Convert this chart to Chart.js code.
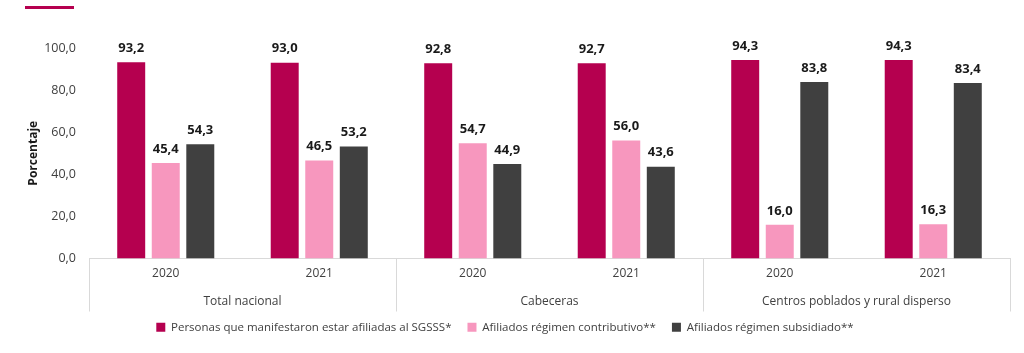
<!DOCTYPE html>
<html>
<head>
<meta charset="utf-8">
<script src="https://cdn.jsdelivr.net/npm/chart.js@4"></script>
<style>
  html, body { margin: 0; padding: 0; background: #fff; }
  #wrap { position: relative; width: 1024px; height: 353px; }
  #topline { position: absolute; left: 25px; top: 6px; width: 49px; height: 3px; background: #b5004f; }
</style>
</head>
<body>
<div id="wrap">
  <div id="topline"></div>
  <canvas id="graph" width="1024" height="353"></canvas>
</div>
<script>
// categories
const years = ['2020', '2021', '2020', '2021', '2020', '2021'];
const groups = ['Total nacional', 'Cabeceras', 'Centros poblados y rural disperso'];

// series
const afiliadasSgsss = [93.2, 93.0, 92.8, 92.7, 94.3, 94.3];
const contributivo = [45.4, 46.5, 54.7, 56.0, 16.0, 16.3];
const subsidiado = [54.3, 53.2, 44.9, 43.6, 83.8, 83.4];

const yTicks = [0, 20, 40, 60, 80, 100];

const fontFamily = "'Open Sans', 'DejaVu Sans', sans-serif";
const textColor = '#404040';
const lineColor = '#d9d9d9';

function fmt(v) {
  return v.toFixed(1).replace('.', ',');
}

// value labels above the bars
const valueLabels = {
  id: 'valueLabels',
  afterDatasetsDraw(chart) {
    const ctx = chart.ctx;
    ctx.save();
    ctx.font = 'bold 13px ' + fontFamily;
    ctx.fillStyle = '#1a1a1a';
    ctx.textAlign = 'center';
    ctx.textBaseline = 'middle';
    chart.data.datasets.forEach((ds, i) => {
      chart.getDatasetMeta(i).data.forEach((bar, j) => {
        ctx.fillText(fmt(ds.data[j]), bar.x, bar.y - 14);
      });
    });
    ctx.restore();
  }
};

// group separators + group names under the years
const groupAxis = {
  id: 'groupAxis',
  afterDraw(chart) {
    const ctx = chart.ctx;
    const x = chart.scales.x;
    const bottom = chart.chartArea.bottom;
    const step = x.getPixelForValue(1) - x.getPixelForValue(0);
    ctx.save();
    ctx.strokeStyle = lineColor;
    ctx.lineWidth = 1;
    for (let g = 0; g <= groups.length; g++) {
      const px = Math.round(x.getPixelForValue(g * 2) - step / 2) + 0.5;
      ctx.beginPath();
      ctx.moveTo(px, bottom);
      ctx.lineTo(px, bottom + 53);
      ctx.stroke();
    }
    ctx.font = '12px ' + fontFamily;
    ctx.fillStyle = textColor;
    ctx.textAlign = 'center';
    ctx.textBaseline = 'middle';
    groups.forEach((name, g) => {
      const cx = (x.getPixelForValue(g * 2) + x.getPixelForValue(g * 2 + 1)) / 2;
      ctx.fillText(name, cx, bottom + 43);
    });
    ctx.restore();
  }
};

const data = {
  labels: years,
  datasets: [
    {
      label: 'Personas que manifestaron estar afiliadas al SGSSS*',
      data: afiliadasSgsss,
      backgroundColor: '#b5004f'
    },
    {
      label: 'Afiliados régimen contributivo**',
      data: contributivo,
      backgroundColor: '#f797be'
    },
    {
      label: 'Afiliados régimen subsidiado**',
      data: subsidiado,
      backgroundColor: '#404040'
    }
  ]
};

const config = {
  type: 'bar',
  data,
  plugins: [valueLabels, groupAxis],
  options: {
    responsive: false,
    animation: false,
    categoryPercentage: 0.675,
    barPercentage: 0.81,
    layout: { padding: { top: 48, right: 14, bottom: 10, left: 0 } },
    plugins: {
      tooltip: { enabled: false },
      legend: {
        position: 'bottom',
        labels: {
          boxWidth: 9,
          boxHeight: 9,
          padding: 16,
          color: textColor,
          font: { family: fontFamily, size: 11.5 }
        }
      }
    },
    scales: {
      x: {
        grid: { display: false },
        border: { display: true, color: lineColor },
        ticks: {
          color: textColor,
          padding: 0,
          font: { family: fontFamily, size: 12 }
        },
        afterFit(scale) { scale.height = 47; }
      },
      y: {
        min: 0,
        max: 100,
        grid: { display: false },
        border: { display: false },
        afterBuildTicks(scale) {
          scale.ticks = yTicks.map(v => ({ value: v }));
        },
        ticks: {
          color: textColor,
          padding: 5,
          font: { family: fontFamily, size: 12.5 },
          callback: v => fmt(v)
        },
        title: {
          display: true,
          text: 'Porcentaje',
          color: '#1a1a1a',
          padding: { top: 26, bottom: 0 },
          font: { family: fontFamily, size: 12, weight: 'bold' }
        },
        afterFit(scale) { scale.width = 89; }
      }
    }
  }
};

const chart = new Chart(document.getElementById('graph'), config);
</script>
</body>
</html>
